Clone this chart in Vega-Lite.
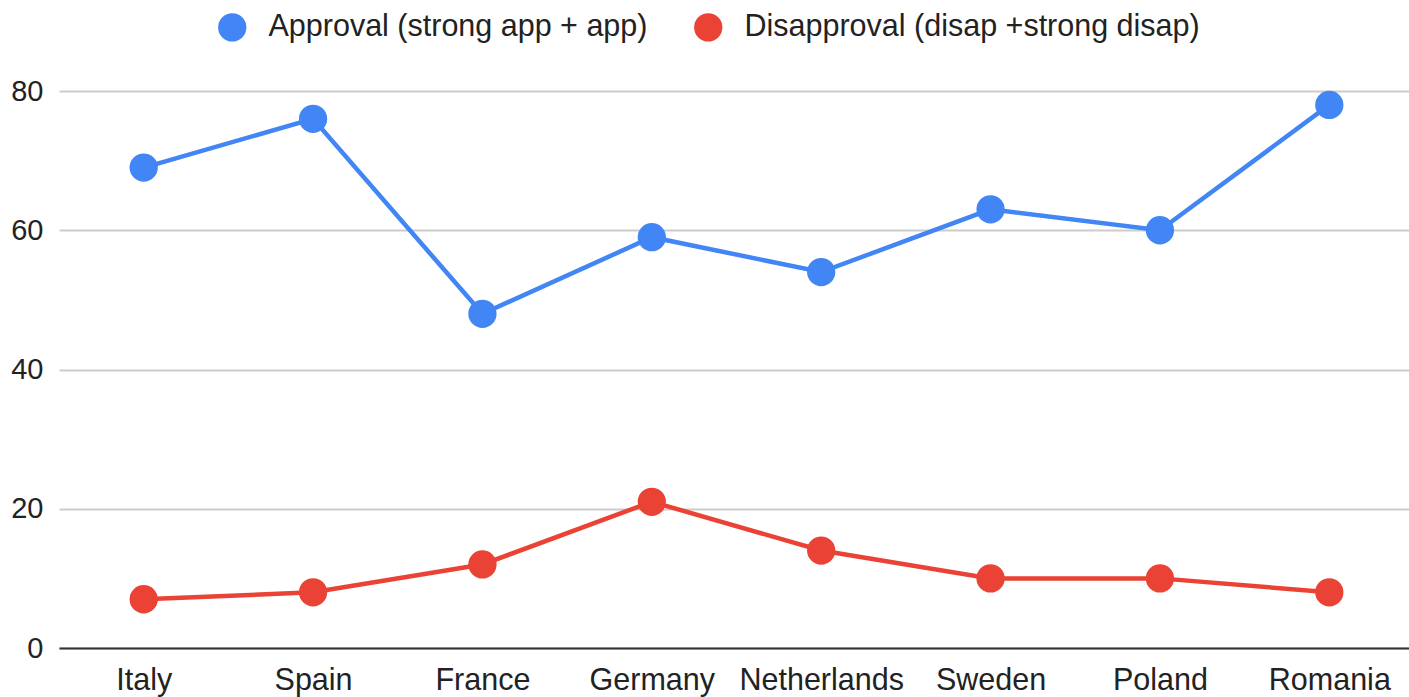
{
  "$schema": "https://vega.github.io/schema/vega-lite/v6.json",
  "autosize": {"type": "none"},
  "width": 1355,
  "height": 557,
  "padding": {"left": 59, "top": 91, "right": 0, "bottom": 49},
  "background": "white",
  "config": {
    "font": "Liberation Sans",
    "view": {"stroke": null}
  },
  "data": {
    "values": [
      {"country": "Italy", "series": "Approval (strong app + app)", "value": 69},
      {"country": "Spain", "series": "Approval (strong app + app)", "value": 76},
      {"country": "France", "series": "Approval (strong app + app)", "value": 48},
      {"country": "Germany", "series": "Approval (strong app + app)", "value": 59},
      {"country": "Netherlands", "series": "Approval (strong app + app)", "value": 54},
      {"country": "Sweden", "series": "Approval (strong app + app)", "value": 63},
      {"country": "Poland", "series": "Approval (strong app + app)", "value": 60},
      {"country": "Romania", "series": "Approval (strong app + app)", "value": 78},
      {"country": "Italy", "series": "Disapproval (disap +strong disap)", "value": 7},
      {"country": "Spain", "series": "Disapproval (disap +strong disap)", "value": 8},
      {"country": "France", "series": "Disapproval (disap +strong disap)", "value": 12},
      {"country": "Germany", "series": "Disapproval (disap +strong disap)", "value": 21},
      {"country": "Netherlands", "series": "Disapproval (disap +strong disap)", "value": 14},
      {"country": "Sweden", "series": "Disapproval (disap +strong disap)", "value": 10},
      {"country": "Poland", "series": "Disapproval (disap +strong disap)", "value": 10},
      {"country": "Romania", "series": "Disapproval (disap +strong disap)", "value": 8}
    ]
  },
  "encoding": {
    "x": {
      "field": "country",
      "type": "nominal",
      "sort": null,
      "scale": {"type": "point", "padding": 0.5},
      "axis": {
        "title": null,
        "labelAngle": 0,
        "labelFontSize": 30.5,
        "labelColor": "#222222",
        "labelPadding": 17,
        "labelLimit": 0,
        "ticks": false,
        "domainColor": "#333333",
        "domainWidth": 2,
        "grid": false
      }
    },
    "y": {
      "field": "value",
      "type": "quantitative",
      "scale": {"domain": [0, 80], "nice": false},
      "axis": {
        "title": null,
        "values": [0, 20, 40, 60, 80],
        "labelFontSize": 29,
        "labelColor": "#222222",
        "labelPadding": 16,
        "ticks": false,
        "domain": false,
        "gridColor": "#cccccc",
        "gridWidth": 2
      }
    },
    "color": {
      "field": "series",
      "type": "nominal",
      "scale": {
        "domain": ["Approval (strong app + app)", "Disapproval (disap +strong disap)"],
        "range": ["#4285F4", "#EA4335"]
      },
      "legend": {
        "title": null,
        "orient": "none",
        "direction": "horizontal",
        "legendX": 158,
        "legendY": -79,
        "symbolType": "circle",
        "symbolSize": 800,
        "symbolStrokeWidth": 0,
        "symbolOpacity": 1,
        "labelFontSize": 30.5,
        "labelLimit": 0,
        "labelColor": "#222222",
        "labelOffset": 21,
        "columnPadding": 45
      }
    }
  },
  "layer": [
    {"mark": {"type": "line", "strokeWidth": 4.5}},
    {"mark": {"type": "point", "filled": true, "size": 800, "opacity": 1}}
  ]
}
